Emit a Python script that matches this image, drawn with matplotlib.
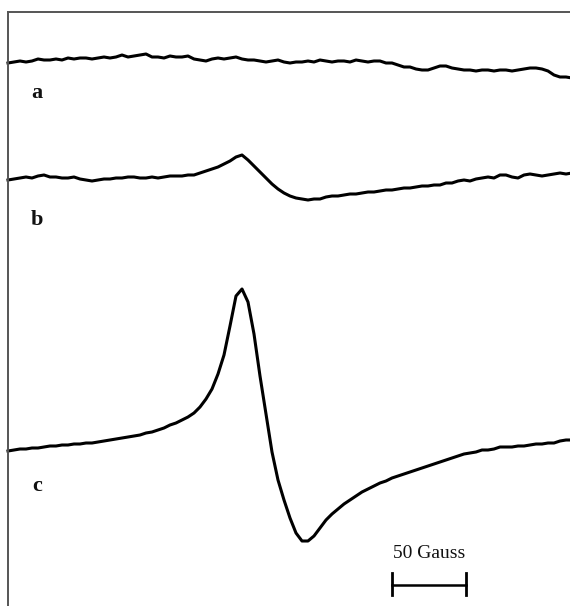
import numpy as np
import matplotlib.pyplot as plt

# EPR traces.
# x: field position (screen units, sampled every 6), y: screen position (down is larger)
x_field = list(range(8, 573, 6))

a_y = [63, 62, 61, 62, 61, 59, 60, 60, 59, 60, 58, 59, 58, 58, 59, 58, 57, 58, 57, 55,
       57, 56, 55, 54, 57, 57, 58, 56, 57, 57, 56, 59, 60, 61, 59, 58, 59, 58, 57, 59,
       60, 60, 61, 62, 61, 60, 62, 63, 62, 62, 61, 62, 60, 61, 62, 61, 61, 62, 60, 61,
       62, 61, 61, 63, 63, 65, 67, 67, 69, 70, 70, 68, 66, 66, 68, 69, 70, 70, 71, 70,
       70, 71, 70, 70, 71, 70, 69, 68, 68, 69, 71, 75, 77, 77, 78]

b_y = [180, 179, 178, 177, 178, 176, 175, 177, 177, 178, 178, 177, 179, 180, 181, 180,
       179, 179, 178, 178, 177, 177, 178, 178, 177, 178, 177, 176, 176, 176, 175, 175,
       173, 171, 169, 167, 164, 161, 157, 155, 160, 166, 172, 178, 184, 189, 193, 196,
       198, 199, 200, 199, 199, 197, 196, 196, 195, 194, 194, 193, 192, 192, 191, 190,
       190, 189, 188, 188, 187, 186, 186, 185, 185, 183, 183, 181, 180, 181, 179, 178,
       177, 178, 175, 175, 177, 178, 175, 174, 175, 176, 175, 174, 173, 174, 173]

c_y = [451, 450, 449, 449, 448, 448, 447, 446, 446, 445, 445, 444, 444, 443, 443, 442,
       441, 440, 439, 438, 437, 436, 435, 433, 432, 430, 428, 425, 423, 420, 417, 413,
       407, 399, 389, 374, 355, 326, 296, 289, 302, 334, 376, 414, 452, 480, 500, 518,
       533, 541, 541, 536, 528, 520, 514, 509, 504, 500, 496, 492, 489, 486, 483, 481,
       478, 476, 474, 472, 470, 468, 466, 464, 462, 460, 458, 456, 454, 453, 452, 450,
       450, 449, 447, 447, 447, 446, 446, 445, 444, 444, 443, 443, 441, 440, 440]

labels = ['a', 'b', 'c']
label_y = [93, 220, 486]
scale_gauss = 50
scale_len = 74  # screen units for 50 G

fig = plt.figure(figsize=(5.7, 6.06), dpi=100)
W, H = 570, 606
# frame: only the left and top edges show in the original
ax = fig.add_axes([8 / W, -12 / H, 1.0, 1.0])
ax.set_xlim(8, 8 + W)
ax.set_ylim(12 + H, 12)
for side in ['right', 'bottom']:
    ax.spines[side].set_visible(False)
for side in ['left', 'top']:
    ax.spines[side].set_color('#555555')
    ax.spines[side].set_linewidth(1.4)
ax.set_xticks([])
ax.set_yticks([])

for ys in [a_y, b_y, c_y]:
    ax.plot(x_field, ys, color='black', lw=2.2, solid_joinstyle='round', clip_on=False)

for lab, y in zip(labels, label_y):
    ax.text(37, y, lab, fontsize=16, fontweight='bold', family='Liberation Serif',
            ha='center', va='center', color='#111111')

# scale bar
x0 = 392
ax.plot([x0, x0 + scale_len], [585, 585], color='black', lw=1.8)
ax.plot([x0, x0], [573, 595], color='black', lw=2.0)
ax.plot([x0 + scale_len, x0 + scale_len], [573, 595], color='black', lw=2.0)
ax.text(x0 + scale_len / 2, 554, f'{scale_gauss} Gauss', fontsize=14, family='Liberation Serif',
        ha='center', va='center', color='#111111')

fig.savefig('out.png', dpi=100, facecolor='white')
